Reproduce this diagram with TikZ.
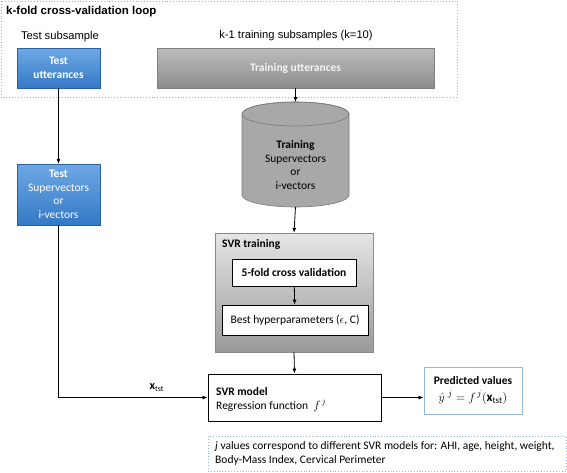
\documentclass[tikz,border=0pt]{standalone}
\usepackage{fontspec}
\setmainfont{Carlito}
\newfontfamily\arialf{Liberation Sans}
\usetikzlibrary{arrows.meta,shadows}
\definecolor{bluetop}{HTML}{6EA8E4}
\definecolor{bluebot}{HTML}{3479C6}
\definecolor{graytop}{HTML}{BDBDBD}
\definecolor{graybot}{HTML}{8C8C8C}
\definecolor{lgtop}{HTML}{E6E6E6}
\definecolor{lgbot}{HTML}{999999}
\definecolor{dotblue}{HTML}{8DB4E2}
\definecolor{cylfill}{HTML}{A8A8A8}
\definecolor{cyledge}{HTML}{7A7A7A}
\definecolor{predblue}{HTML}{95B8DD}
\tikzset{
  base/.style={inner sep=2pt, align=center, font=\fontsize{11.5}{13.5}\selectfont},
  bluebox/.style={base, top color=bluetop, bottom color=bluebot, draw=bluebot!80!black, line width=0.3pt,
    text=white, drop shadow={opacity=0.25, shadow xshift=1pt, shadow yshift=-1pt}},
  graybox/.style={base, top color=graytop, bottom color=graybot, draw=graybot!90!black, line width=0.3pt,
    text=white!92!gray, drop shadow={opacity=0.25, shadow xshift=1pt, shadow yshift=-1pt}},
  whitebox/.style={base, draw=black, line width=0.9pt, fill=white},
  dotbox/.style={draw=dotblue, dotted, line width=0.9pt},
  conn/.style={line width=0.8pt, -{Latex[length=5pt,width=4pt]}},
  lab/.style={inner sep=0pt, font=\arialf\fontsize{11.2}{13}\selectfont}
}
\begin{document}
\begin{tikzpicture}[x=1pt, y=-1pt]
\useasboundingbox (0,0) rectangle (567,472);
% outer loop box
\draw[dotbox] (1,1) rectangle (457,97);
\node[lab, anchor=west, font=\arialf\bfseries\fontsize{11.5}{13}\selectfont] (looplab) at (6,12) {k-fold cross-validation loop};
\node[lab] (tslab) at (60,37) {Test subsample};
\node[lab] (trlab) at (296,36) {k-1 training subsamples (k=10)};
% top boxes
\node[bluebox, minimum width=83pt, minimum height=40pt] (tu) at (58.5,68) {\textbf{Test}\\\textbf{utterances}};
\node[graybox, minimum width=277pt, minimum height=40pt] (tr) at (295.5,68) {\textbf{Training utterances}};
% cylinder
\draw[fill=cylfill, draw=cyledge, line width=0.6pt]
  (242,114) -- (242,195) arc[start angle=180, end angle=0, x radius=53.5, y radius=12] -- (349,114)
  arc[start angle=0, end angle=-180, x radius=53.5, y radius=12] -- cycle;
\draw[draw=cyledge, line width=0.6pt] (295.5,114) ellipse[x radius=53.5, y radius=12];
\coordinate (cyltop) at (295.5,102);
\coordinate (cylbot) at (295.5,207);
\node[base, text=black] (cyl) at (295.5,165) {\textbf{Training}\\Supervectors\\or\\i-vectors};
% test supervectors
\node[bluebox, minimum width=83pt, minimum height=61pt] (tsv) at (58.5,194.5) {\textbf{Test}\\Supervectors\\or\\i-vectors};
% SVR training
\node[base, top color=lgtop, bottom color=lgbot, draw=lgbot!90!black, line width=0.3pt,
  minimum width=158pt, minimum height=119pt,
  drop shadow={opacity=0.25, shadow xshift=1pt, shadow yshift=-1pt}] (svrt) at (294,292.5) {};
\node[base, anchor=west, inner sep=0pt] (svrtlab) at (222,244) {\textbf{SVR training}};
\node[whitebox, minimum width=124pt, minimum height=27pt] (fold) at (294,272.5) {\textbf{5-fold cross validation}};
\node[whitebox, minimum width=146pt, minimum height=30pt] (best) at (295,320) {Best hyperparameters ($\epsilon$, C)};
% SVR model
\node[whitebox, minimum width=173pt, minimum height=47pt] (svrm) at (294.5,397.5) {};
\node[base, anchor=west, inner sep=0pt] (svrmlab) at (216,391.5) {\textbf{SVR model}};
\node[base, anchor=west, inner sep=0pt] (svrmfun) at (216,405.5) {Regression function \ $f^{\,j}$};
% predicted
\node[base, draw=predblue, line width=0.9pt, fill=white, minimum width=98pt, minimum height=47pt,
  inner sep=3pt] (pred) at (473,390.5)
  {\textbf{Predicted values}\\[3pt]{\fontsize{13}{15}\selectfont$\hat{y}^{\,\,j} = f^{\,j}(\mathbf{x}_{\mathrm{tst}})$}};
% note
\draw[dotbox] (208,436) rectangle (566,471);
\node[base, anchor=north west, align=left, inner sep=0pt] (note) at (215,441.5)
  {\textit{j} values correspond to different SVR models for: AHI, age, height, weight,\\Body-Mass Index, Cervical Perimeter};
% connectors
\draw[conn] (tu) -- (tsv);
\draw[conn] (tr.south) -- (cyltop);
\draw[conn] (cylbot) -- (svrt.north);
\draw[conn] (fold) -- (best);
\draw[conn] (svrt.south) -- (svrm.north);
\draw[conn] (tsv.south) |- (svrm.west) node[pos=0.83, above=2pt, font=\fontsize{12}{14}\selectfont] {$\mathbf{x}_{\mathrm{tst}}$};
\draw[conn] (svrm.east) -- (svrm.east -| pred.west);
\end{tikzpicture}
\end{document}
